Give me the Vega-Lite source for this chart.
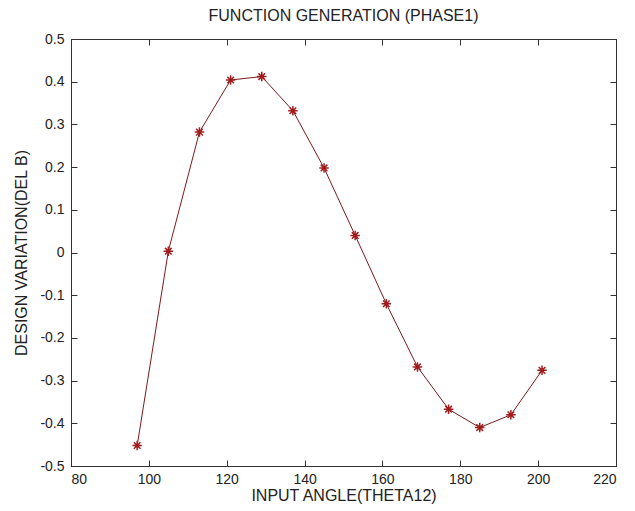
{
  "$schema": "https://vega.github.io/schema/vega-lite/v6.json",
  "width": 545,
  "height": 427,
  "autosize": {"type": "none"},
  "padding": {"left": 71, "top": 39, "right": 19, "bottom": 45},
  "background": "white",
  "title": {"text": "FUNCTION GENERATION (PHASE1)", "font": "Liberation Sans", "fontSize": 16, "fontWeight": "normal", "color": "#222", "offset": 8, "anchor": "middle"},
  "config": {
    "view": {"stroke": "#333", "strokeWidth": 1},
    "axis": {"grid": false, "domainColor": "#333", "tickColor": "#333", "labelFont": "Liberation Sans", "labelFontSize": 14, "labelColor": "#222", "titleFont": "Liberation Sans", "titleFontSize": 16, "titleFontWeight": "normal", "titleColor": "#222", "tickSize": -6}
  },
  "data": {"values": [
    {"theta": 97, "delb": -0.452},
    {"theta": 105, "delb": 0.003},
    {"theta": 113, "delb": 0.282},
    {"theta": 121, "delb": 0.404},
    {"theta": 129, "delb": 0.412},
    {"theta": 137, "delb": 0.332},
    {"theta": 145, "delb": 0.198},
    {"theta": 153, "delb": 0.04},
    {"theta": 161, "delb": -0.12},
    {"theta": 169, "delb": -0.268},
    {"theta": 177, "delb": -0.367},
    {"theta": 185, "delb": -0.41},
    {"theta": 193, "delb": -0.38},
    {"theta": 201, "delb": -0.276}
  ]},
  "layer": [
    {"mark": {"type": "line", "color": "#7a1a1a", "strokeWidth": 1},
      "encoding": {
        "x": {"field": "theta", "type": "quantitative", "scale": {"domain": [80, 220], "nice": false, "zero": false},
          "axis": {"orient": "bottom", "title": "INPUT ANGLE(THETA12)", "values": [80, 100, 120, 140, 160, 180, 200, 220], "labelPadding": 12, "titlePadding": 1}},
        "y": {"field": "delb", "type": "quantitative", "scale": {"domain": [-0.5, 0.5], "nice": false, "zero": false},
          "axis": {"orient": "left", "title": "DESIGN VARIATION(DEL B)", "values": [-0.5, -0.4, -0.3, -0.2, -0.1, 0, 0.1, 0.2, 0.3, 0.4, 0.5], "labelExpr": "datum.value < 0 ? '-' + format(-datum.value, '.1~f') : format(datum.value, '.1~f')", "labelPadding": 13, "titlePadding": 10}}
      }},
    {"mark": {"type": "point", "shape": "M-1,0L1,0M0,-1L0,1M-0.7,-0.7L0.7,0.7M-0.7,0.7L0.7,-0.7", "filled": false, "color": "#a01c1c", "strokeWidth": 1.5, "size": 90, "opacity": 1},
      "encoding": {
        "x": {"field": "theta", "type": "quantitative",
          "axis": {"orient": "top", "labels": false, "title": null, "values": [80, 100, 120, 140, 160, 180, 200, 220]}},
        "y": {"field": "delb", "type": "quantitative",
          "axis": {"orient": "right", "labels": false, "title": null, "values": [-0.5, -0.4, -0.3, -0.2, -0.1, 0, 0.1, 0.2, 0.3, 0.4, 0.5]}}
      }}
  ],
  "resolve": {"axis": {"x": "independent", "y": "independent"}}
}
